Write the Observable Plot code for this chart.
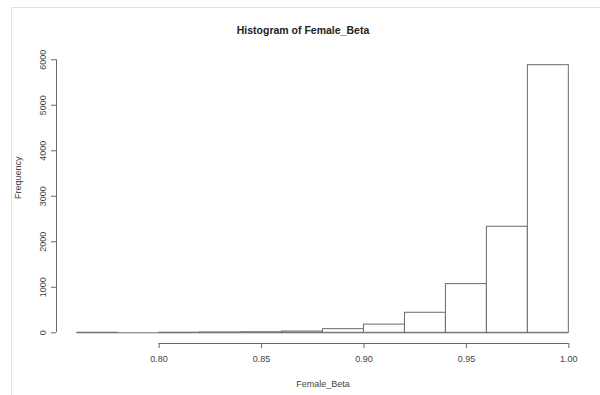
<!DOCTYPE html>
<html>
<head>
<meta charset="utf-8">
<script src="https://cdn.jsdelivr.net/npm/d3@7"></script>
<script src="https://cdn.jsdelivr.net/npm/@observablehq/plot@0.6"></script>
<style>
  html, body { margin: 0; padding: 0; background: #fff; }
  #wrap { position: relative; width: 600px; height: 395px; overflow: hidden; }
  #edge { position: absolute; left: 11px; top: 7px; right: -2px; bottom: -2px;
          border-left: 1px solid #e2e2e2; border-top: 1px solid #e2e2e2; pointer-events: none; }
  svg { display: block; }
</style>
</head>
<body>
<div id="wrap"><div id="edge"></div></div>
<script>
// Histogram bins of Female_Beta (width 0.02) and their counts
const binStart = [0.76, 0.78, 0.80, 0.82, 0.84, 0.86, 0.88, 0.90, 0.92, 0.94, 0.96, 0.98];
const binEnd   = [0.78, 0.80, 0.82, 0.84, 0.86, 0.88, 0.90, 0.92, 0.94, 0.96, 0.98, 1.00];
const counts   = [1, 0, 2, 8, 12, 28, 80, 180, 440, 1070, 2330, 5880];

const xTicks = [0.80, 0.85, 0.90, 0.95, 1.00];
const yTicks = [0, 1000, 2000, 3000, 4000, 5000, 6000];

const titleText = "Histogram of Female_Beta";
const xLabel = "Female_Beta";
const yLabel = "Frequency";

const bins = binStart.map((s, i) => ({x1: s, x2: binEnd[i], count: counts[i]}));

// R-style 4% padding around the data range
const xPad = (d3.max(binEnd) - d3.min(binStart)) * 0.04;
const xDomain = [d3.min(binStart) - xPad, d3.max(binEnd) + xPad];
const yMax = d3.max(counts);
const yDomain = [-0.04 * yMax, 1.04 * yMax];

const ink = "#444";
const line = "#6a6a6a";

const chart = Plot.plot({
  width: 600,
  height: 395,
  marginLeft: 57,
  marginRight: 12,
  marginTop: 54,
  marginBottom: 52,
  style: {fontFamily: "'Liberation Sans', Arial, sans-serif", fontSize: "9px", color: ink, background: "transparent"},
  x: {domain: xDomain},
  y: {domain: yDomain},
  marks: [
    // baseline under every bin, so empty bins still show as a line
    Plot.ruleY([0], {x1: d3.min(binStart), x2: d3.max(binEnd), stroke: line}),
    Plot.rect(bins, {x1: "x1", x2: "x2", y1: 0, y2: "count", fill: "white", stroke: line, strokeWidth: 1}),
    // axis lines spanning first to last tick
    Plot.ruleY([yDomain[0]], {x1: d3.min(xTicks), x2: d3.max(xTicks), stroke: line}),
    Plot.ruleX([xDomain[0]], {y1: d3.min(yTicks), y2: d3.max(yTicks), stroke: line, dx: -1}),
    Plot.axisX({ticks: xTicks, tickFormat: d3.format(".2f"), tickSize: 5, tickPadding: 7, stroke: line, label: null}),
    Plot.axisY({ticks: yTicks, tickFormat: d => String(d), tickSize: 5, tickPadding: 6, tickRotate: -90, stroke: line, label: null, dx: -1}),
    Plot.text([titleText], {frameAnchor: "top", dx: -20, dy: -28, fontWeight: "bold", fontSize: 10.5, fill: "#222"}),
    Plot.text([xLabel], {frameAnchor: "bottom", dy: 43, fontSize: 9, fill: ink}),
    Plot.text([yLabel], {frameAnchor: "left", dx: -39, rotate: -90, fontSize: 9, fill: ink})
  ]
});
document.getElementById("wrap").prepend(chart);
</script>
</body>
</html>
